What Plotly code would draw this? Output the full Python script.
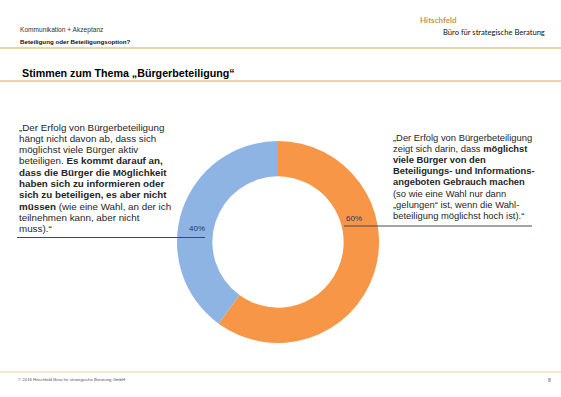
import plotly.graph_objects as go

W, H = 561, 397

# ---- data ----
slice_labels = ["Möglichst viele Bürger beteiligen sich", "Bürger haben die Möglichkeit"]
slice_values = [60, 40]
slice_colors = ["#F79646", "#8EB4E3"]

header_line1 = "Kommunikation + Akzeptanz"
header_line2 = "Beteiligung oder Beteiligungsoption?"
title_text = "Stimmen zum Thema „Bürgerbeteiligung“"
logo_name = "Hitschfeld"
logo_sub = "Büro für strategische Beratung"
footer_text = "© 2016 Hitschfeld Büro für strategische Beratung GmbH"
page_no = "8"

left_quote = [
    "„Der Erfolg von Bürgerbeteiligung",
    "hängt nicht davon ab, dass sich",
    "möglichst viele Bürger aktiv",
    "beteiligen. <b>Es kommt darauf an,</b>",
    "<b>dass die Bürger die Möglichkeit</b>",
    "<b>haben sich zu informieren oder</b>",
    "<b>sich zu beteiligen, es aber nicht</b>",
    "<b>müssen</b> (wie eine Wahl, an der ich",
    "teilnehmen kann, aber nicht",
    "muss).“",
]
right_quote = [
    "„Der Erfolg von Bürgerbeteiligung",
    "zeigt sich darin, dass <b>möglichst</b>",
    "<b>viele Bürger von den</b>",
    "<b>Beteiligungs- und Informations-</b>",
    "<b>angeboten Gebrauch machen</b>",
    "(so wie eine Wahl nur dann",
    "„gelungen“ ist, wenn die Wahl-",
    "beteiligung möglichst hoch ist).“",
]


def px(x):
    return x / W


def py(y):
    return 1 - y / H


fig = go.Figure()
fig.add_trace(go.Pie(
    labels=slice_labels,
    values=slice_values,
    marker=dict(colors=slice_colors, line=dict(width=0)),
    hole=0.65,
    sort=False,
    direction="clockwise",
    rotation=0,
    textinfo="none",
    hoverinfo="label+percent",
    showlegend=False,
    domain=dict(x=[px(177), px(379)], y=[py(343), py(141)]),
))

ann = []
FONT = "Liberation Sans, Arial, sans-serif"

ann.append(dict(x=px(18), y=py(30), text=header_line1, xanchor="left", yanchor="middle",
                font=dict(family=FONT, size=6.6, color="#333333")))
ann.append(dict(x=px(18), y=py(41), text="<b>" + header_line2 + "</b>", xanchor="left", yanchor="middle",
                font=dict(family=FONT, size=6.2, color="#111111")))
ann.append(dict(x=px(20), y=py(73), text="<b>" + title_text + "</b>", xanchor="left", yanchor="middle",
                font=dict(family=FONT, size=10.7, color="#000000")))
ann.append(dict(x=px(418), y=py(20), text="<b>" + logo_name + "</b>", xanchor="left", yanchor="middle",
                font=dict(family="Lato, sans-serif", size=8, color="#CB9450")))
ann.append(dict(x=px(441), y=py(32), text=logo_sub, xanchor="left", yanchor="middle",
                font=dict(family="Lato, sans-serif", size=7.6, color="#111111")))
ann.append(dict(x=px(16), y=py(379), text=footer_text, xanchor="left", yanchor="middle",
                font=dict(family=FONT, size=4.3, color="#555555")))
ann.append(dict(x=px(549), y=py(380), text=page_no, xanchor="center", yanchor="middle",
                font=dict(family=FONT, size=5, color="#555555")))

for i, line in enumerate(left_quote):
    ann.append(dict(x=px(17), y=py(127 + 11.3 * i), text=line, xanchor="left", yanchor="middle",
                    font=dict(family=FONT, size=9.8, color="#262626")))
for i, line in enumerate(right_quote):
    ann.append(dict(x=px(391), y=py(137.5 + 11.1 * i), text=line, xanchor="left", yanchor="middle",
                    font=dict(family=FONT, size=9.4, color="#262626")))

total = sum(slice_values)
pct_pos = [(354, 218), (197, 229)]
for v, (xx, yy) in zip(slice_values, pct_pos):
    ann.append(dict(x=px(xx), y=py(yy), text=f"{v / total * 100:.0f}%", xanchor="center", yanchor="middle",
                    font=dict(family=FONT, size=8, color="#1F3864")))

for a in ann:
    a.update(xref="paper", yref="paper", showarrow=False)

shapes = [
    dict(type="line", x0=0, x1=1, y0=py(48), y1=py(48), line=dict(color="#E6C68C", width=1.5)),
    dict(type="line", x0=0, x1=1, y0=py(81), y1=py(81), line=dict(color="#E6C68C", width=1.5)),
    dict(type="line", x0=0, x1=1, y0=py(372), y1=py(372), line=dict(color="#E6D3A5", width=1)),
    dict(type="line", x0=px(17), x1=px(205), y0=py(237.5), y1=py(237.5), line=dict(color="#3E4A58", width=1)),
    dict(type="line", x0=px(344), x1=px(532), y0=py(226), y1=py(226), line=dict(color="#3E4A58", width=1)),
]
for s in shapes:
    s.update(xref="paper", yref="paper")

fig.update_layout(
    width=W, height=H,
    margin=dict(l=0, r=0, t=0, b=0),
    paper_bgcolor="white",
    plot_bgcolor="white",
    annotations=ann,
    shapes=shapes,
)

fig.write_html(
    "out.html",
    config={"displayModeBar": False},
    post_script="document.body.style.margin='0';document.body.style.overflow='hidden';",
)
